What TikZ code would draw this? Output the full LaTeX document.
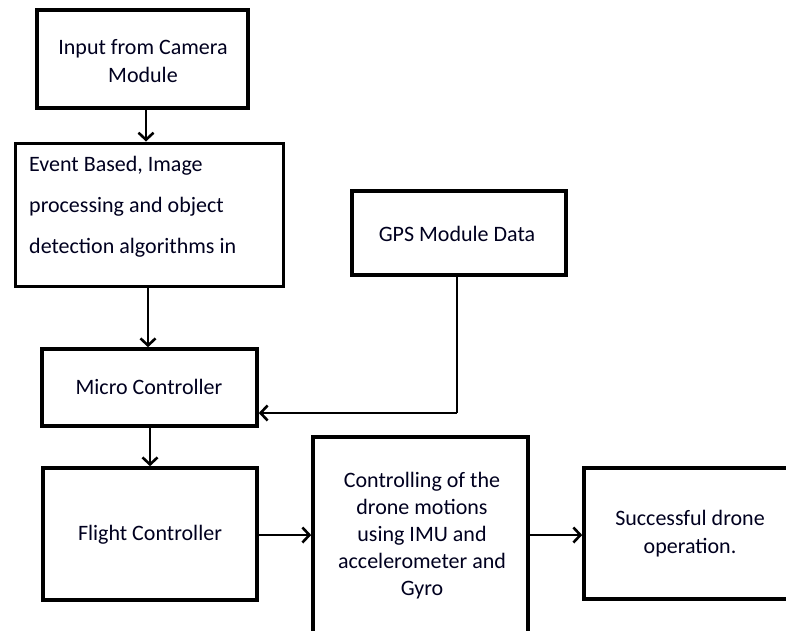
\documentclass[tikz,border=0pt]{standalone}
\usepackage{fontspec}
\setmainfont{Carlito}
\usetikzlibrary{arrows.meta}
\begin{document}
\begin{tikzpicture}[x=1pt,y=-1pt,
  box/.style={draw=black, line width=3.6pt, rectangle, inner sep=0pt},
  txt/.style={font=\fontsize{22}{28}\selectfont, text=black!88!blue, align=center, inner sep=0pt},
  arr/.style={line width=2.6pt, -{Straight Barb[length=7pt,width=15pt,line width=2.6pt]}},
  con/.style={line width=2.6pt}]
\useasboundingbox (0,0) rectangle (786,630);
\clip (0,0) rectangle (786,630);
\fill[white] (0,0) rectangle (786,630);
% boxes
\node[box, minimum width=211pt, minimum height=98pt] (b1) at (142.5,59) {};
\node[box, line width=3pt, minimum width=268pt, minimum height=143pt] (b2) at (149,214.5) {};
\node[box, minimum width=214pt, minimum height=84pt] (gps) at (459,233) {};
\node[box, minimum width=215pt, minimum height=77pt] (b3) at (149.5,387.5) {};
\node[box, minimum width=214pt, minimum height=132pt] (b4) at (150,534) {};
\node[box, minimum width=215pt, minimum height=198pt] (b5) at (420.5,536) {};
\node[box, minimum width=220pt, minimum height=131pt] (b6) at (694,533.5) {};
% texts
\node[txt] (t1) at (143,61) {Input from Camera\\Module};
\node[txt, align=left, anchor=west, font=\fontsize{22}{41}\selectfont] (t2) at (29,206.5) {Event Based, Image\\processing and object\\detection algorithms in};
\node[txt] (tg) at (457,234) {GPS Module Data};
\node[txt] (t3) at (149,387) {Micro Controller};
\node[txt] (t4) at (150,535) {Flight Controller};
\node[txt, font=\fontsize{22}{27}\selectfont] (t5) at (422,536) {Controlling of the\\drone motions\\using IMU and\\accelerometer and\\Gyro};
\node[txt] (t6) at (690,534) {Successful drone\\operation.};
% connectors
\draw[arr] (b1.south -| 146,0) -- (b2.north -| 146,0);
\draw[arr] (b2.south -| 148,0) -- (b3.north -| 148,0);
\draw[arr] (b3.south -| 150,0) -- (b4.north -| 150,0);
\coordinate (gc) at (457,413);
\draw[con] (gps.south -| gc) -- (gc);
\draw[arr] (gc) -- (gc -| b3.east);
\draw[arr] (b4.east |- 0,535) -- (b5.west |- 0,535);
\draw[arr] (b5.east |- 0,535) -- (b6.west |- 0,535);
\end{tikzpicture}
\end{document}
